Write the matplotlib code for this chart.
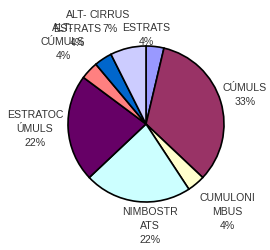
import matplotlib.pyplot as plt

# cloud type counts (percent labels as shown)
clouds = ['ESTRATS', 'CÚMULS', 'CUMULONIMBUS', 'NIMBOSTRATS',
          'ESTRATOCÚMULS', 'ALT-CÚMULS', 'ALT-ESTRATS', 'CIRRUS']
counts = [1, 9, 1, 6, 6, 1, 1, 2]
label_text = ['ESTRATS', 'CÚMULS', 'CUMULONI\nMBUS', 'NIMBOSTR\nATS',
              'ESTRATOC\nÚMULS', 'ALT-\nCÚMULS', 'ALT-\nESTRATS', 'CIRRUS']
colors = ['#9999FF', '#993366', '#FFFFCC', '#CCFFFF',
          '#660066', '#FF8080', '#0066CC', '#CCCCFF']

# label centres in pixels (x, y of first line, from top)
label_pos = [(146, 23), (245, 83), (227, 193), (150, 207),
             (35, 110), (63, 23), (77, 10), (110, 10)]

W, H = 270, 251
fig = plt.figure(figsize=(W / 100, H / 100), dpi=100)
ax = fig.add_axes([0, 0, 1, 1])

ax.pie(counts, colors=colors, startangle=90, counterclock=False,
       center=(146, H - 125), radius=78, frame=True,
       wedgeprops=dict(edgecolor='black', linewidth=1.2))
ax.set_xlim(0, W)
ax.set_ylim(0, H)
ax.set_aspect('equal')
ax.axis('off')

total = sum(counts)
for txt, n, (x, y) in zip(label_text, counts, label_pos):
    pct = f'{round(100 * n / total):.0f}%'
    ax.text(x, H - y, f'{txt}\n{pct}', ha='center', va='top',
            fontsize=7.6, family='Liberation Sans', color='#333333',
            linespacing=1.5)

fig.savefig('out.png', dpi=100)
